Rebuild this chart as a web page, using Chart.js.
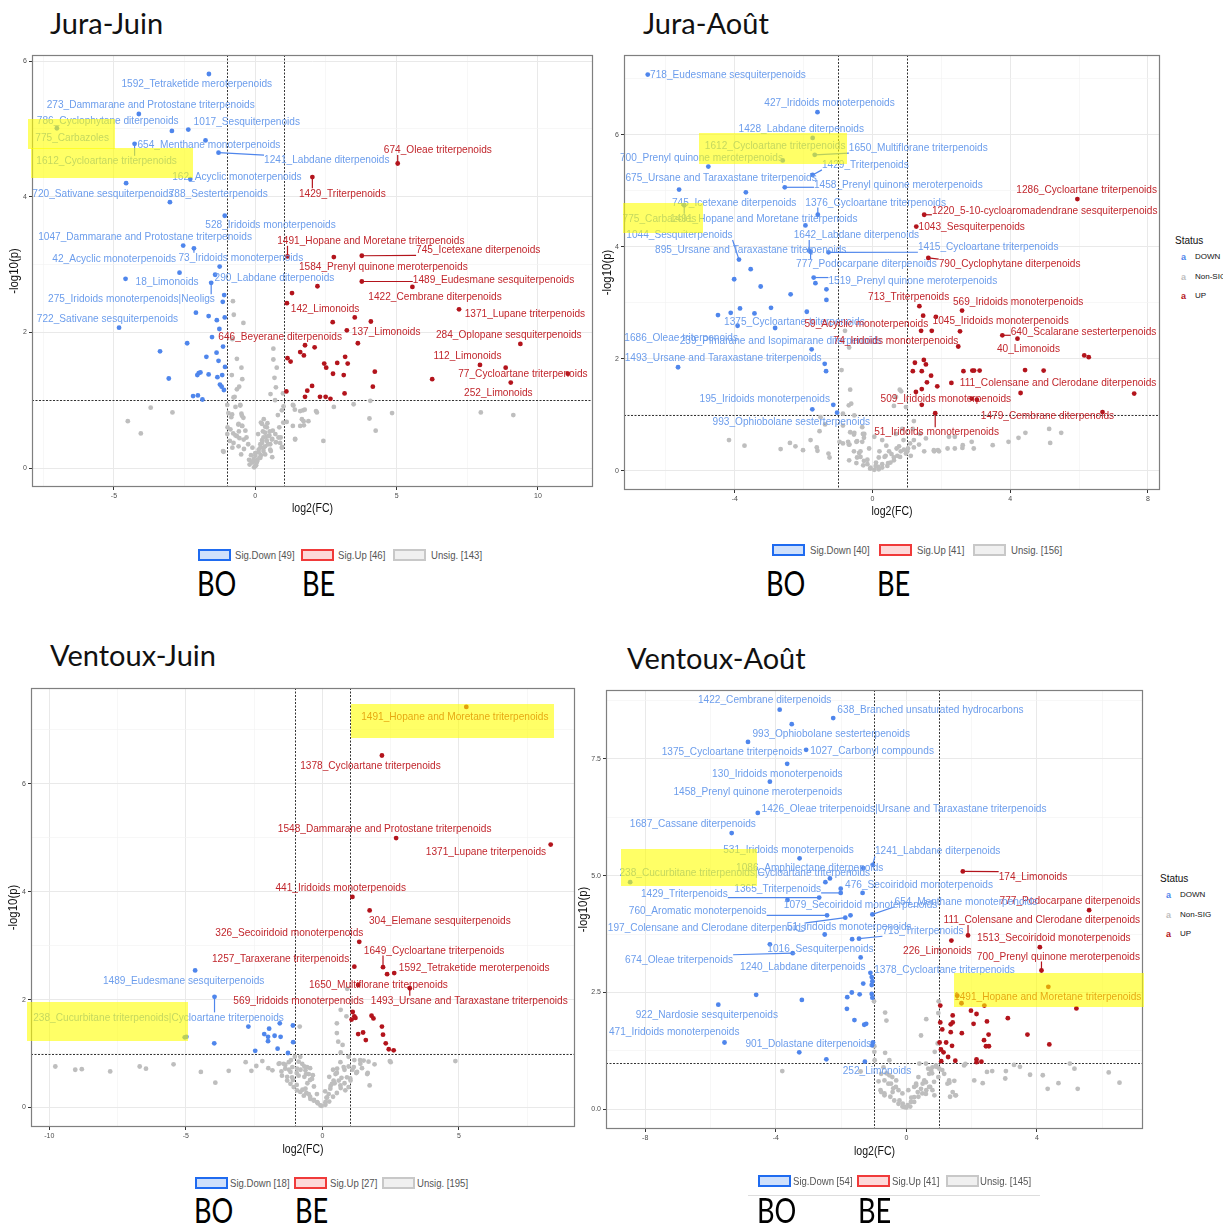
<!DOCTYPE html>
<html>
<head>
<meta charset="utf-8">
<script src="https://cdn.jsdelivr.net/npm/chart.js@4.4.1/dist/chart.umd.min.js"></script>
<style>
  body { margin: 0; width: 1223px; height: 1224px; background: #fff; position: relative; overflow: hidden; font-family: "Liberation Sans", Arial, sans-serif; }
  canvas { position: absolute; }
  .title { position: absolute; font-family: Lato, "Open Sans", sans-serif; font-size: 29px; color: #111; line-height: 1; white-space: nowrap; }
  .hl { position: absolute; background: rgba(255, 255, 0, 0.6); }
  .key { position: absolute; width: 29px; height: 8px; border: 2px solid; }
  .lt { position: absolute; font-size: 11px; color: #555; white-space: nowrap; transform: scaleX(0.87); transform-origin: left center; line-height: 12px; }
  .bb { position: absolute; font-family: Lato, sans-serif; font-size: 34px; color: #000; line-height: 1; transform: scaleX(0.8); transform-origin: left top; }
  .st { position: absolute; font-size: 10px; color: #111; white-space: nowrap; }
  .si { position: absolute; font-size: 8px; color: #111; white-space: nowrap; line-height: 10px; }
  .sm { position: absolute; font-size: 9px; font-weight: bold; line-height: 10px; }
</style>
</head>
<body>
<script>
// ---- Jura-Juin ----
const jjDown = [[-1.64,5.81],[-4.12,5.22],[-2.95,4.97],[-2.37,4.99],[-7.02,5.01],[-1.76,4.83],[-4.27,4.78],[-1.30,4.65],[-2.30,4.26],[-4.57,4.20],[-3.02,3.92],[-1.08,3.72],[-2.55,3.28],[-2.17,3.24],[-2.68,2.88],[-1.26,2.97],[-1.42,2.85],[-4.59,2.79],[-1.56,2.73],[-1.10,2.55],[-1.15,2.45],[-4.82,2.07],[-2.10,2.29],[-1.65,2.24],[-1.36,2.18],[-1.08,2.22],[-1.27,2.05],[-1.53,1.93],[-2.41,1.84],[-1.14,1.79],[-3.37,1.72],[-1.37,1.70],[-1.73,1.64],[-1.30,1.58],[-1.07,1.49],[-3.06,1.32],[-2.00,1.40],[-2.05,1.37],[-1.94,1.41],[-1.65,1.38],[-1.34,1.34],[-1.17,1.37],[-1.25,1.23],[-1.19,1.20],[-1.11,1.15],[-2.20,1.06],[-2.03,1.07],[-1.87,1.01]];
const jjUp = [[5.04,4.49],[2.02,4.29],[1.14,3.12],[2.78,3.11],[3.77,3.13],[1.30,2.58],[2.20,2.68],[3.77,2.75],[5.56,2.67],[1.12,2.43],[2.74,2.15],[3.52,2.22],[4.09,2.16],[3.24,2.03],[3.63,1.84],[7.21,2.34],[9.38,1.83],[1.76,1.81],[2.10,1.78],[1.59,1.71],[1.72,1.66],[1.14,1.62],[1.25,1.57],[2.44,1.54],[2.51,1.48],[2.90,1.55],[3.18,1.64],[3.27,1.54],[2.75,1.39],[3.13,1.37],[4.23,1.42],[4.16,1.20],[2.01,1.21],[1.84,1.14],[1.76,1.05],[2.29,1.05],[2.49,1.05],[2.66,1.02],[3.16,1.10],[1.10,1.13],[6.26,1.31],[7.95,1.52],[8.86,1.48],[9.04,1.26],[11.06,1.39]];
const jjNs = [[-3.70,0.89],[-2.93,0.82],[-4.51,0.69],[-4.05,0.51],[-0.79,2.46],[-0.76,2.26],[-0.42,2.14],[-0.81,1.90],[-0.65,1.61],[-0.49,1.48],[-0.83,1.37],[-0.46,1.31],[-0.57,1.20],[-0.65,1.16],[-0.73,1.05],[0.64,1.76],[0.64,1.60],[0.76,1.48],[0.68,1.33],[0.73,1.19],[0.54,1.09],[0.70,1.00],[0.98,1.10],[1.00,0.91],[0.94,0.85],[-0.99,0.93],[-0.95,0.81],[-0.53,0.93],[-0.49,0.80],[-0.42,0.74],[-0.60,0.64],[-0.46,0.62],[-0.98,0.60],[-0.78,0.51],[-0.58,0.54],[-0.56,0.44],[-0.81,0.30],[-1.14,0.25],[-0.31,0.45],[0.20,0.67],[0.43,0.66],[0.35,0.61],[0.27,0.54],[0.51,0.54],[0.39,0.46],[0.60,0.43],[0.24,0.41],[0.73,0.38],[0.95,0.31],[0.60,0.16],[0.18,0.35],[0.30,0.30],[0.12,0.27],[0.00,0.22],[-0.15,0.19],[-0.22,0.12],[-0.08,0.09],[0.03,0.04],[-0.04,0.01],[0.08,0.12],[0.20,0.19],[1.11,0.68],[1.33,0.62],[1.41,0.43],[1.33,0.93],[1.40,0.86],[1.69,0.85],[1.75,0.86],[1.65,0.72],[1.72,0.63],[2.15,0.84],[2.41,0.40],[2.78,0.90],[3.48,0.94],[4.07,0.99],[4.04,0.73],[4.26,0.55],[4.84,0.81],[7.98,0.82],[9.13,0.78],[-0.70,0.90],[-0.85,0.75],[-0.35,0.55],[-0.25,0.35],[-0.40,0.28],[0.10,0.50],[0.30,0.72],[0.45,0.35],[0.55,0.25],[0.35,0.20],[0.15,0.15],[-0.10,0.30],[0.62,0.55],[0.85,0.60],[0.90,0.45],[0.80,0.78],[-0.90,0.40],[-0.70,0.48],[-0.50,0.20],[0.05,0.08],[-0.20,0.05],[0.25,0.40],[0.50,0.48],
  [-0.77,1.04],[-0.53,0.92],[-0.82,0.79],[-0.47,0.77],[-0.59,0.65],[-0.47,0.62],[-0.88,0.57],[-0.99,0.50],[-0.65,0.47],[-0.41,0.42],[-0.77,0.37],[-0.59,0.32],[-1.12,0.24],[0.24,0.65],[0.41,0.60],[0.35,0.52],[0.47,0.47],[0.29,0.45],[0.41,0.40],[0.24,0.37],[0.35,0.32],[0.18,0.30],[0.29,0.25],[0.12,0.23],[0.00,0.18],[-0.06,0.13],[-0.12,0.08],[0.06,0.10],[0.00,0.03],[0.18,0.15],[0.53,0.35],[0.59,0.42],[0.71,0.50],[0.82,0.45],[0.88,0.37],[0.94,0.30],[0.53,0.27],[1.35,0.92],[1.59,0.84],[1.71,0.69],[1.88,0.69],[1.59,0.62],[1.41,0.42],[0.99,0.67],[2.18,0.82]];
// text, group, point x, point y
const jjLabels = [
  ['1592_Tetraketide meroterpenoids','d',-1.64,5.81],['273_Dammarane and Protostane triterpenoids','d',-4.12,5.22],
  ['786_Cyclophytane diterpenoids','d',-2.95,4.97],['1017_Sesquiterpenoids','d',-2.37,4.99],['775_Carbazoles','d',-7.02,5.01],
  ['654_Menthane monoterpenoids','d',-1.76,4.83],['1612_Cycloartane triterpenoids','d',-4.27,4.78],['1241_Labdane diterpenoids','d',-1.30,4.65],
  ['674_Oleae triterpenoids','u',5.04,4.49],['162_Acyclic monoterpenoids','d',-2.30,4.26],['1429_Triterpenoids','u',2.02,4.29],
  ['720_Sativane sesquiterpenoids','d',-4.57,4.20],['788_Sesterterpenoids','d',-3.02,3.92],['528_Iridoids monoterpenoids','d',-1.08,3.72],
  ['1047_Dammarane and Protostane triterpenoids','d',-2.55,3.28],['1491_Hopane and Moretane triterpenoids','u',1.14,3.12],
  ['745_Icetexane diterpenoids','u',3.77,3.13],['42_Acyclic monoterpenoids','d',-2.68,2.88],['73_Iridoids monoterpenoids','d',-2.17,3.24],
  ['1584_Prenyl quinone meroterpenoids','u',2.20,2.68],['290_Labdane diterpenoids','d',-1.42,2.85],['18_Limonoids','d',-4.59,2.79],
  ['1489_Eudesmane sesquiterpenoids','u',3.77,2.75],['275_Iridoids monoterpenoids|Neoligs','d',-1.56,2.73],['1422_Cembrane diterpenoids','u',5.56,2.67],
  ['142_Limonoids','u',1.12,2.43],['1371_Lupane triterpenoids','u',7.21,2.34],['722_Sativane sesquiterpenoids','d',-4.82,2.07],
  ['137_Limonoids','u',3.24,2.03],['284_Oplopane sesquiterpenoids','u',9.38,1.83],['646_Beyerane diterpenoids','u',1.76,1.81],
  ['112_Limonoids','u',7.95,1.52],['77_Cycloartane triterpenoids','u',11.06,1.39],['252_Limonoids','u',9.04,1.26]
];
// label centre (data units) and whether a leader line is drawn
const jjLabelAt = [[-2.07,5.66,0],[-3.70,5.36,0],[-5.22,5.12,0],[-0.30,5.10,0],[-6.48,4.87,0],[-1.64,4.76,0],[-5.26,4.53,1],[2.53,4.54,1],[6.46,4.69,1],[-0.65,4.29,0],[3.08,4.05,1],[-5.39,4.05,0],[-1.31,4.05,0],[0.54,3.58,0],[-3.90,3.41,0],[4.09,3.35,1],[7.89,3.21,1],[-4.99,3.08,0],[-0.51,3.10,1],[4.53,2.97,0],[0.68,2.81,0],[-3.12,2.74,0],[8.43,2.77,1],[-4.38,2.49,1],[6.36,2.53,0],[2.47,2.35,0],[9.54,2.27,0],[-5.23,2.20,0],[4.63,2.01,0],[8.97,1.96,0],[0.88,1.94,0],[7.51,1.65,0],[9.47,1.39,0],[8.60,1.11,0]];
const jjCounts = [49, 46, 143];

// ---- Jura-Août ----
const jaDown = [[-6.53,7.07],[-1.60,6.40],[-1.74,5.94],[-2.61,5.54],[-1.68,5.64],[-4.77,5.43],[-1.74,5.28],[-5.62,5.02],[-3.68,4.97],[-2.55,5.06],[-1.59,4.57],[-5.47,4.74],[-1.95,4.38],[-3.88,3.77],[-1.84,3.93],[-3.54,3.60],[-1.28,3.90],[-1.80,3.91],[-1.71,3.45],[-1.66,3.35],[-4.02,3.42],[-3.25,3.29],[-1.34,3.24],[-2.38,3.15],[-1.34,3.05],[-4.49,2.78],[-4.12,2.82],[-3.85,2.90],[-3.43,2.81],[-2.95,2.91],[-1.91,2.84],[-3.92,2.59],[-2.83,2.55],[-1.77,2.17],[-5.65,1.85],[-1.39,1.91],[-1.35,1.78],[-1.75,1.10],[-1.14,1.18],[-1.03,1.04]];
const jaUp = [[5.95,4.85],[1.50,4.57],[1.27,4.36],[1.62,3.80],[1.36,2.94],[2.60,2.86],[1.47,2.77],[1.84,2.75],[2.54,2.49],[1.41,2.50],[1.72,2.50],[3.77,2.42],[4.21,2.36],[2.49,2.22],[6.15,2.06],[6.28,2.03],[1.23,1.93],[1.49,1.98],[1.55,1.90],[1.17,1.78],[1.43,1.78],[2.64,1.78],[2.90,1.79],[2.95,1.79],[3.11,1.79],[4.43,1.80],[4.97,1.79],[1.70,1.70],[1.58,1.58],[1.88,1.51],[2.29,1.57],[1.43,1.46],[1.26,1.41],[4.30,1.39],[7.60,1.38],[1.43,1.18],[2.88,1.29],[3.03,1.27],[1.82,1.03],[6.68,1.05]];
const jaNs = [[-0.80,2.50],[-0.68,2.20],[-0.90,1.80],[-0.65,1.45],[-0.69,1.17],[-0.62,1.20],[-0.86,1.02],[-0.53,0.99],[0.79,1.45],[0.83,1.42],[0.68,1.32],[0.62,1.16],[0.97,1.14],[1.20,0.89],[1.17,0.75],[-1.54,0.71],[-1.51,0.96],[-1.38,0.83],[-0.86,0.81],[-0.65,0.69],[-0.53,0.68],[-0.30,0.78],[-0.28,0.66],[-4.17,0.55],[-3.72,0.45],[-2.67,0.39],[-2.40,0.50],[-2.24,0.44],[-2.02,0.37],[-1.80,0.55],[-1.62,0.42],[-1.60,0.36],[-1.28,0.31],[-1.25,0.24],[-0.96,0.52],[-0.86,0.49],[-0.71,0.52],[-0.67,0.47],[-0.47,0.52],[-0.30,0.52],[-0.39,0.32],[-0.68,0.19],[-0.47,0.14],[-0.27,0.10],[-0.07,0.04],[0.05,0.02],[0.16,0.07],[0.28,0.12],[0.45,0.14],[0.62,0.19],[0.80,0.25],[0.97,0.31],[1.03,0.40],[1.09,0.49],[-0.24,0.66],[0.05,0.61],[0.28,0.55],[0.68,0.66],[0.86,0.75],[1.20,0.55],[1.38,0.66],[1.55,0.58],[1.78,0.37],[1.90,0.37],[2.18,0.40],[2.39,0.40],[2.61,0.41],[2.62,0.46],[2.94,0.40],[2.88,0.52],[3.49,0.46],[3.95,0.52],[4.24,0.59],[4.44,0.68],[5.13,0.75],[5.48,0.68],[5.16,0.50],[2.39,0.61],[2.22,0.61],[-0.15,0.20],[0.10,0.15],[0.35,0.25],[0.55,0.30],[0.20,0.35],[-0.35,0.25],[0.40,0.45],[0.70,0.40],[-0.10,0.40],[0.90,0.55],
  [-0.54,0.65],[-0.45,0.53],[-0.25,0.59],[-0.69,0.47],[-0.54,0.35],[-0.35,0.35],[-0.45,0.24],[-0.25,0.18],[-0.15,0.12],[-0.06,0.06],[0.09,0.09],[0.18,0.03],[0.28,0.06],[0.43,0.09],[0.52,0.15],[0.62,0.24],[0.72,0.27],[0.82,0.35],[0.91,0.38],[1.01,0.35],[1.11,0.27],[1.20,0.42],[1.35,0.47],[1.50,0.35],[1.79,0.35],[1.93,0.35],[0.38,0.27],[0.18,0.24],[0.48,0.35],[0.77,0.44]];
const jaLabels = [
  ['718_Eudesmane sesquiterpenoids','d',-6.53,7.07],['427_Iridoids monoterpenoids','d',-1.60,6.40],['1428_Labdane diterpenoids','d',-1.74,5.94],
  ['1612_Cycloartane triterpenoids','d',-2.61,5.54],['1650_Multiflorane triterpenoids','d',-1.68,5.64],['700_Prenyl quinone meroterpenoids','d',-4.77,5.43],
  ['1429_Triterpenoids','d',-1.74,5.28],['675_Ursane and Taraxastane triterpenoids','d',-5.62,5.02],['1458_Prenyl quinone meroterpenoids','d',-2.55,5.06],
  ['1286_Cycloartane triterpenoids','u',5.95,4.85],['745_Icetexane diterpenoids','d',-3.68,4.97],['1376_Cycloartane triterpenoids','d',-1.59,4.57],
  ['1220_5-10-cycloaromadendrane sesquiterpenoids','u',1.50,4.57],['775_Carbazoles','d',-5.47,4.74],['1491_Hopane and Moretane triterpenoids','d',-1.95,4.38],
  ['1043_Sesquiterpenoids','u',1.27,4.36],['1044_Sesquiterpenoids','d',-3.88,3.77],['1642_Labdane diterpenoids','d',-1.84,3.93],
  ['895_Ursane and Taraxastane triterpenoids','d',-3.54,3.60],['1415_Cycloartane triterpenoids','d',-1.28,3.90],['777_Podocarpane diterpenoids','d',-1.80,3.91],
  ['790_Cyclophytane diterpenoids','u',1.62,3.80],['1519_Prenyl quinone meroterpenoids','d',-1.71,3.45],['713_Triterpenoids','u',1.36,2.94],
  ['569_Iridoids monoterpenoids','u',2.60,2.86],['1375_Cycloartane triterpenoids','d',-3.92,2.59],['59_Acyclic monoterpenoids','u',1.47,2.77],
  ['1045_Iridoids monoterpenoids','u',2.54,2.49],['640_Scalarane sesterterpenoids','u',3.77,2.42],['1686_Oleae triterpenoids','d',-4.49,2.78],
  ['239_Pimarane and Isopimarane diterpenoids','d',-2.83,2.55],['74_Iridoids monoterpenoids','u',2.49,2.22],['40_Limonoids','u',4.21,2.36],
  ['1493_Ursane and Taraxastane triterpenoids','d',-5.65,1.85],['111_Colensane and Clerodane diterpenoids','u',4.97,1.79],
  ['509_Iridoids monoterpenoids','u',1.43,1.18],['195_Iridoids monoterpenoids','d',-1.75,1.10],['993_Ophiobolane sesterterpenoids','d',-1.03,1.04],
  ['51_Iridoids monoterpenoids','u',1.82,1.03],['1479_Cembrane diterpenoids','u',6.68,1.05]
];
const jaLabelAt = [[-4.20,7.07,0],[-1.25,6.57,0],[-2.07,6.10,0],[-2.83,5.80,0],[1.33,5.76,1],[-4.97,5.58,0],[-0.21,5.46,1],[-4.40,5.23,0],[0.75,5.10,1],[6.22,5.01,0],[-4.02,4.79,0],[0.09,4.79,1],[5.00,4.64,1],[-6.19,4.50,1],[-3.16,4.49,0],[2.88,4.35,0],[-5.61,4.21,1],[-0.47,4.21,1],[-3.54,3.94,0],[3.36,3.99,1],[-0.18,3.69,1],[3.98,3.69,1],[1.17,3.39,1],[1.05,3.10,0],[4.23,3.01,0],[-2.27,2.66,1],[-0.18,2.62,0],[3.72,2.68,0],[6.13,2.49,1],[-5.56,2.37,0],[-2.67,2.33,0],[0.68,2.33,0],[4.53,2.18,0],[-4.34,2.02,0],[5.39,1.58,0],[2.13,1.29,0],[-3.13,1.29,0],[-2.36,0.87,0],[1.86,0.69,1],[5.08,0.99,0]];
const jaCounts = [40, 41, 156];

// ---- Ventoux-Juin ----
const vjDown = [[-4.66,2.54],[-3.95,2.05],[-5.04,1.30],[-4.98,1.31],[-2.71,1.50],[-1.95,1.46],[-1.56,1.56],[-1.08,1.52],[-2.13,1.36],[-1.99,1.31],[-1.75,1.33],[-1.53,1.31],[-1.99,1.23],[-1.07,1.21],[-3.96,1.19],[-1.64,1.09],[-1.26,1.01],[-2.46,1.05]];
const vjUp = [[5.27,7.42],[2.18,6.52],[2.70,4.99],[8.36,4.87],[1.10,3.90],[1.73,3.65],[1.35,3.07],[2.22,2.60],[1.17,2.61],[2.63,2.49],[2.37,2.47],[1.31,2.27],[3.20,2.21],[1.11,1.77],[1.17,1.69],[1.07,1.63],[1.21,1.66],[1.80,1.70],[1.87,1.65],[2.18,1.50],[2.22,1.35],[2.32,1.19],[2.43,1.08],[2.61,1.06],[1.31,1.36],[1.49,1.39],[1.59,1.25]];
const vjNs = [[-9.78,0.76],[-9.05,0.70],[-8.81,0.71],[-7.77,0.67],[-6.69,0.76],[-6.46,0.72],[-5.45,0.80],[-4.45,0.66],[-3.92,0.46],[-3.43,0.68],[-2.81,0.84],[-2.60,0.68],[-2.42,0.77],[-2.20,0.86],[-1.98,0.73],[-1.83,0.69],[-0.83,1.50],[0.53,1.56],[0.88,1.69],[0.91,2.20],[0.67,1.81],[0.53,1.38],[0.58,1.22],[0.67,1.02],[0.74,1.16],[0.96,0.94],[1.17,0.88],[1.38,0.88],[1.69,0.85],[1.91,0.80],[2.47,0.86],[2.50,0.84],[4.87,0.86],[-1.57,0.82],[-1.36,0.79],[-1.15,0.88],[-1.01,0.94],[-0.87,0.85],[-0.66,0.76],[-0.45,0.73],[-1.50,0.67],[-1.29,0.57],[-1.08,0.51],[-0.94,0.42],[-0.73,0.33],[-0.59,0.27],[-0.45,0.20],[-0.31,0.14],[-0.17,0.08],[-0.03,0.03],[0.11,0.05],[0.25,0.11],[0.39,0.20],[0.53,0.27],[0.67,0.36],[0.81,0.45],[1.02,0.54],[1.24,0.64],[1.45,0.73],[1.66,0.64],[1.73,0.41],[0.96,0.76],[0.53,0.64],[0.39,0.70],[0.25,0.57],[0.81,0.70],[-0.31,0.39],[-0.45,0.51],[-0.66,0.57],[-0.94,0.64],[-1.22,0.70],[-0.80,0.70],[-0.55,0.45],[-0.20,0.25],[0.15,0.18],[0.45,0.45],[0.70,0.55],[-1.10,0.75],[-0.60,0.62],[0.10,0.30],[-0.35,0.60],[0.30,0.40],[1.10,0.70],
  [-1.60,0.81],[-1.42,0.81],[-1.23,0.84],[-1.36,0.72],[-1.17,0.66],[-1.48,0.59],[-1.29,0.50],[-1.11,0.56],[-1.17,0.44],[-1.05,0.38],[-0.93,0.32],[-0.81,0.29],[-0.68,0.22],[-0.62,0.35],[-0.50,0.25],[-0.44,0.16],[-0.32,0.13],[-0.19,0.10],[-0.07,0.04],[0.11,0.10],[0.17,0.19],[0.23,0.25],[0.29,0.35],[0.35,0.44],[0.41,0.50],[0.48,0.62],[0.54,0.72],[0.66,0.84],[0.78,0.75],[0.90,0.56],[1.03,0.50],[1.15,0.75],[1.27,0.66],[1.39,0.81],[1.51,0.87],[1.64,0.62],[0.96,0.38],[0.84,0.32],[0.66,0.41],[0.60,0.50],[-0.81,0.94],[-0.74,0.81],[-0.62,0.69],[-0.56,0.75],[-0.93,0.72],[-0.87,0.59],[-0.50,0.62],[-0.38,0.53]];
const vjLabels = [
  ['1491_Hopane and Moretane triterpenoids','u',5.27,7.42],['1378_Cycloartane triterpenoids','u',2.18,6.52],
  ['1548_Dammarane and Protostane triterpenoids','u',2.70,4.99],['1371_Lupane triterpenoids','u',8.36,4.87],
  ['441_Iridoids monoterpenoids','u',1.10,3.90],['304_Elemane sesquiterpenoids','u',1.73,3.65],['326_Secoiridoid monoterpenoids','u',1.35,3.07],
  ['1649_Cycloartane triterpenoids','u',2.22,2.60],['1257_Taraxerane triterpenoids','u',1.17,2.61],['1592_Tetraketide meroterpenoids','u',2.63,2.49],
  ['1489_Eudesmane sesquiterpenoids','d',-4.66,2.54],['238_Cucurbitane triterpenoids|Cycloartane triterpenoids','d',-3.95,2.05],
  ['1650_Multiflorane triterpenoids','u',1.31,2.27],['1493_Ursane and Taraxastane triterpenoids','u',3.20,2.21],['569_Iridoids monoterpenoids','u',1.11,1.77]
];
const vjLabelAt = [[4.85,7.23,0],[1.76,6.33,0],[2.28,5.16,0],[5.99,4.73,0],[0.67,4.07,0],[4.30,3.46,0],[-1.21,3.24,0],[4.09,2.91,1],[-1.53,2.75,0],[5.56,2.59,0],[-5.08,2.35,0],[-6.00,1.67,1],[2.05,2.28,0],[5.38,1.98,1],[-0.87,1.98,0]];
const vjCounts = [18, 27, 195];

// ---- Ventoux-Août ----
const vaDown = [[-3.88,8.55],[-2.24,8.37],[-3.51,8.24],[-4.85,7.86],[-3.07,7.69],[-3.65,7.39],[-4.18,7.01],[-4.55,6.34],[-5.35,5.91],[-3.27,5.37],[-1.03,5.23],[-1.32,5.16],[-8.46,4.86],[-2.48,4.86],[-2.34,4.94],[-1.34,4.63],[-2.01,4.63],[-2.01,4.72],[-2.67,4.53],[-3.64,4.48],[-1.04,4.17],[-1.71,4.15],[-2.43,4.15],[-1.87,4.10],[-2.50,3.74],[-1.45,3.65],[-1.66,3.64],[-4.18,3.53],[-3.48,3.34],[-1.40,3.25],[-1.10,2.92],[-1.06,2.83],[-1.04,2.74],[-1.06,2.66],[-1.32,2.69],[-4.60,2.45],[-3.20,2.34],[-5.76,2.24],[-1.67,2.50],[-1.81,2.40],[-1.43,2.46],[-1.06,2.47],[-1.04,2.39],[-1.82,2.15],[-1.59,1.91],[-1.29,1.81],[-1.23,1.83],[-5.57,1.43],[-1.02,1.43],[-1.05,1.37],[-3.28,1.22],[-2.45,1.07],[-1.27,1.02]];
const vaUp = [[1.73,5.09],[5.60,4.26],[1.89,3.72],[4.09,3.47],[1.38,3.61],[4.14,2.97],[4.35,2.62],[1.56,2.43],[1.69,2.27],[2.39,2.22],[5.21,2.16],[1.98,2.11],[2.15,2.04],[1.42,2.01],[1.42,1.86],[1.36,1.82],[1.04,1.86],[1.04,2.22],[2.06,1.83],[2.47,1.88],[3.11,1.95],[3.71,1.60],[4.38,1.39],[1.10,1.71],[1.36,1.65],[1.70,1.63],[2.52,1.60],[2.38,1.48],[2.44,1.35],[2.53,1.35],[1.02,1.43],[1.22,1.43],[1.40,1.36],[1.06,1.28],[1.14,1.22],[1.28,1.12],[1.50,1.04],[2.15,1.07],[2.15,1.01],[2.30,1.02],[1.07,1.03]];
const vaNs = [[-0.99,2.31],[-0.65,2.07],[-0.61,1.90],[0.45,1.58],[0.61,1.93],[0.99,2.31],[0.98,2.06],[0.87,1.23],[-0.65,1.21],[-0.98,1.35],[-0.98,1.23],[-0.97,1.05],[-3.80,0.82],[1.81,0.97],[2.08,0.62],[2.34,0.56],[2.47,0.80],[2.63,0.82],[3.05,0.82],[3.03,0.66],[3.30,0.95],[3.48,0.91],[3.79,0.74],[4.18,0.73],[4.33,0.44],[4.66,0.56],[5.01,0.98],[5.15,0.87],[5.25,0.44],[6.20,0.79],[6.53,0.57],[1.32,0.57],[1.47,0.61],[1.34,0.27],[1.50,0.30],[-0.61,0.77],[-0.43,0.69],[-0.31,0.62],[-0.79,0.41],[-0.67,0.34],[-0.49,0.27],[-0.37,0.19],[-0.24,0.12],[-0.12,0.06],[0.00,0.04],[0.12,0.06],[0.24,0.16],[0.37,0.27],[0.49,0.34],[0.61,0.41],[0.73,0.48],[0.85,0.59],[0.98,0.69],[1.10,0.84],[0.92,0.91],[0.67,0.87],[0.37,0.69],[0.24,0.48],[-0.12,0.34],[0.06,0.41],[0.55,0.62],[0.79,0.77],[-0.24,0.41],[-0.55,0.55],[-1.40,0.81],[-0.85,0.60],[-0.70,0.90],[0.30,0.55],[0.15,0.25],[-0.40,0.45],
  [-0.52,1.05],[-0.77,0.76],[-0.67,0.62],[-0.52,0.73],[-0.47,0.55],[-0.32,0.48],[-0.42,0.37],[-0.77,0.37],[-0.67,0.30],[-0.21,0.19],[-0.11,0.12],[-0.06,0.05],[0.04,0.09],[0.14,0.16],[0.24,0.26],[0.35,0.37],[0.45,0.44],[0.30,0.51],[0.50,0.55],[0.60,0.58],[0.70,0.76],[0.76,0.83],[0.80,0.90],[0.91,0.94],[1.01,0.87],[0.70,0.48],[0.80,0.41],[0.60,0.33],[0.86,0.30],[1.16,0.76],[1.26,0.55],[1.31,0.62],[1.42,0.37],[1.52,0.30],[1.77,0.94],[0.96,1.41],[0.40,0.98],[0.60,0.98]];
const vaLabels = [
  ['1422_Cembrane diterpenoids','d',-3.88,8.55],['638_Branched unsaturated hydrocarbons','d',-2.24,8.37],['993_Ophiobolane sesterterpenoids','d',-3.51,8.24],
  ['1375_Cycloartane triterpenoids','d',-4.85,7.86],['1027_Carbonyl compounds','d',-3.07,7.69],['130_Iridoids monoterpenoids','d',-3.65,7.39],
  ['1458_Prenyl quinone meroterpenoids','d',-4.18,7.01],['1426_Oleae triterpenoids|Ursane and Taraxastane triterpenoids','d',-4.55,6.34],
  ['1687_Cassane diterpenoids','d',-5.35,5.91],['531_Iridoids monoterpenoids','d',-3.27,5.37],['1241_Labdane diterpenoids','d',-1.03,5.23],
  ['1086_Amphilectane diterpenoids','d',-1.32,5.16],['238_Cucurbitane triterpenoids|Cycloartane triterpenoids','d',-8.46,4.86],
  ['174_Limonoids','u',1.73,5.09],['476_Secoiridoid monoterpenoids','d',-1.34,4.63],['1365_Triterpenoids','d',-2.01,4.63],
  ['1429_Triterpenoids','d',-2.67,4.53],['777_Podocarpane diterpenoids','u',5.60,4.26],['654_Menthane monoterpenoids','d',-1.04,4.17],
  ['1079_Secoiridoid monoterpenoids','d',-1.71,4.15],['760_Aromatic monoterpenoids','d',-2.43,4.15],['111_Colensane and Clerodane diterpenoids','u',1.89,3.72],
  ['197_Colensane and Clerodane diterpenoids','d',-1.87,4.10],['51_Iridoids monoterpenoids','d',-2.50,3.74],['713_Triterpenoids','d',-1.45,3.65],
  ['1513_Secoiridoid monoterpenoids','u',4.09,3.47],['1016_Sesquiterpenoids','d',-4.18,3.53],['226_Limonoids','u',1.38,3.61],
  ['674_Oleae triterpenoids','d',-3.48,3.34],['700_Prenyl quinone meroterpenoids','u',4.14,2.97],['1240_Labdane diterpenoids','d',-1.40,3.25],
  ['1378_Cycloartane triterpenoids','d',-1.10,2.92],['1491_Hopane and Moretane triterpenoids','u',4.35,2.62],['922_Nardosie sesquiterpenoids','d',-5.76,2.24],
  ['471_Iridoids monoterpenoids','d',-5.57,1.43],['901_Dolastane diterpenoids','d',-1.02,1.43],['252_Limonoids','d',-1.05,1.37]
];
const vaLabelAt = [[-4.34,8.75,0],[0.74,8.54,0],[-2.30,8.04,0],[-5.34,7.64,0],[-1.05,7.67,0],[-3.95,7.18,0],[-4.55,6.79,0],[-0.07,6.43,0],[-6.54,6.10,0],[-3.61,5.56,0],[0.96,5.52,1],[-2.96,5.16,0],[-4.95,5.07,0],[3.88,4.98,1],[0.39,4.81,0],[-3.94,4.72,1],[-6.80,4.60,1],[5.01,4.46,0],[1.83,4.44,1],[-1.40,4.37,0],[-6.39,4.24,1],[4.15,4.05,1],[-6.11,3.88,1],[-1.75,3.90,0],[0.51,3.81,1],[4.52,3.67,0],[-2.63,3.44,0],[0.95,3.39,0],[-6.96,3.20,1],[4.66,3.27,1],[-3.17,3.04,0],[1.17,2.99,0],[4.33,2.40,0],[-6.11,2.03,0],[-7.11,1.66,0],[-3.00,1.41,0],[-0.90,0.82,0]];
const vaCounts = [54, 41, 145];

const cutX = [-1, 1];
const cutY = 1;

const BLUE_PT = '#4F86EC', RED_PT = '#B3141C', GREY_PT = '#BEBEBE';
const BLUE_TX = '#6C9DEC', RED_TX = '#C1262C';
const SX = 0.88; // narrow text

function narrow(ctx, s, x, y, sx) {
  ctx.save();
  ctx.translate(x, y);
  ctx.scale(sx, 1);
  ctx.fillText(s, 0, 0);
  ctx.restore();
}

function volcanoPlugin(p) {
  return {
    id: 'volcano',
    beforeDatasetsDraw(chart) {
      const { ctx, chartArea: a, scales: { x, y } } = chart;
      ctx.save();
      ctx.strokeStyle = '#333';
      ctx.lineWidth = 1;
      ctx.setLineDash([2, 1.5]);
      cutX.forEach(v => {
        const px = Math.round(x.getPixelForValue(v)) + 0.5;
        ctx.beginPath(); ctx.moveTo(px, a.top); ctx.lineTo(px, a.bottom); ctx.stroke();
      });
      const py = Math.round(y.getPixelForValue(cutY)) + 0.5;
      ctx.beginPath(); ctx.moveTo(a.left, py); ctx.lineTo(a.right, py); ctx.stroke();
      ctx.restore();
    },
    afterDatasetsDraw(chart) {
      const { ctx, scales: { x, y } } = chart;
      ctx.save();
      ctx.font = '11.5px "Liberation Sans", Arial, sans-serif';
      ctx.textAlign = 'center';
      ctx.textBaseline = 'middle';
      p.labels.forEach((l, i) => {
        const at = p.at[i];
        const cx = x.getPixelForValue(at[0]), cy = y.getPixelForValue(at[1]);
        const w = ctx.measureText(l[0]).width * SX, h = 10;
        if (at[2]) {
          const px = x.getPixelForValue(l[2]), py = y.getPixelForValue(l[3]);
          const tx = Math.min(Math.max(px, cx - w / 2), cx + w / 2);
          const ty = Math.min(Math.max(py, cy - h / 2), cy + h / 2);
          ctx.strokeStyle = l[1] === 'u' ? RED_PT : BLUE_PT;
          ctx.lineWidth = 1.2;
          ctx.beginPath(); ctx.moveTo(px, py); ctx.lineTo(tx, ty); ctx.stroke();
        }
        ctx.fillStyle = l[1] === 'u' ? RED_TX : BLUE_TX;
        narrow(ctx, l[0], cx, cy, SX);
      });
      ctx.restore();
    },
    afterDraw(chart) {
      const { ctx, chartArea: a } = chart;
      ctx.save();
      ctx.strokeStyle = '#7F7F7F';
      ctx.lineWidth = 1.2;
      ctx.strokeRect(a.left + 0.5, a.top + 0.5, a.right - a.left - 1, a.bottom - a.top - 1);
      ctx.fillStyle = '#111';
      ctx.font = '12px "Liberation Sans", Arial, sans-serif';
      ctx.textAlign = 'center';
      ctx.textBaseline = 'middle';
      narrow(ctx, 'log2(FC)', (a.left + a.right) / 2, a.bottom + p.xTitleOff, 0.88);
      ctx.translate(a.left - p.yTitleOff, (a.top + a.bottom) / 2);
      ctx.rotate(-Math.PI / 2);
      narrow(ctx, '-log10(p)', 0, 0, 0.95);
      ctx.restore();
    }
  };
}

function axis(range, major, minor, fmt, horiz, size) {
  const all = major.concat(minor).sort((a, b) => a - b);
  const isMajor = v => major.includes(v);
  return {
    type: 'linear',
    min: range[0], max: range[1],
    afterBuildTicks: s => { s.ticks = all.map(v => ({ value: v })); },
    afterFit: s => { if (horiz) s.height = size; else s.width = size; },
    ticks: {
      autoSkip: false, maxRotation: 0, padding: 2,
      color: '#4D4D4D',
      font: { family: 'Liberation Sans', size: 7 },
      callback: v => isMajor(v) ? fmt(v) : ''
    },
    grid: {
      color: c => isMajor(c.tick.value) ? '#E9E9E9' : '#F3F3F3',
      lineWidth: c => isMajor(c.tick.value) ? 1 : 0.7,
      drawTicks: true, tickLength: 3,
      tickColor: c => isMajor(c.tick.value) ? '#333' : 'rgba(0,0,0,0)'
    },
    border: { display: false }
  };
}

function volcano(p) {
  const [l, t, r, b] = p.box;
  const W = r - l + p.yw + 6, H = b - t + 10 + 40;
  const cv = document.createElement('canvas');
  cv.width = W; cv.height = H;
  cv.style.left = (l - p.yw) + 'px'; cv.style.top = (t - 10) + 'px';
  cv.style.width = W + 'px'; cv.style.height = H + 'px';
  document.body.appendChild(cv);
  const pt = (data, col, order) => ({ data, backgroundColor: col, borderWidth: 0, pointRadius: 2.4, pointHoverRadius: 2.4, order });
  new Chart(cv, {
    type: 'scatter',
    data: { datasets: [pt(p.ns, GREY_PT, 3), pt(p.down, BLUE_PT, 2), pt(p.up, RED_PT, 1)] },
    options: {
      responsive: false, animation: false, events: [],
      layout: { padding: { left: 0, right: 6, top: 10, bottom: 0 } },
      plugins: { legend: { display: false }, tooltip: { enabled: false } },
      scales: {
        x: axis(p.xr, p.xMajor, p.xMinor, v => String(v), true, 40),
        y: axis(p.yr, p.yMajor, p.yMinor, p.yFmt, false, p.yw)
      }
    },
    plugins: [volcanoPlugin(p)]
  });
}

volcano({ box: [32, 55, 593, 487], yw: 30, xr: [-7.9, 11.95], yr: [-0.28, 6.09],
  xMajor: [-5, 0, 5, 10], xMinor: [-7.5, -2.5, 2.5, 7.5], yMajor: [0, 2, 4, 6], yMinor: [1, 3, 5], yFmt: v => String(v),
  down: jjDown, up: jjUp, ns: jjNs, labels: jjLabels, at: jjLabelAt, xTitleOff: 22, yTitleOff: 17 });
volcano({ box: [624, 55, 1160, 490], yw: 30, xr: [-7.22, 8.35], yr: [-0.34, 7.42],
  xMajor: [-4, 0, 4, 8], xMinor: [-6, -2, 2, 6], yMajor: [0, 2, 4, 6], yMinor: [1, 3, 5, 7], yFmt: v => String(v),
  down: jaDown, up: jaUp, ns: jaNs, labels: jaLabels, at: jaLabelAt, xTitleOff: 22, yTitleOff: 16 });
volcano({ box: [31, 688, 575, 1127], yw: 30, xr: [-10.67, 9.25], yr: [-0.36, 7.77],
  xMajor: [-10, -5, 0, 5], xMinor: [-7.5, -2.5, 2.5, 7.5], yMajor: [0, 2, 4, 6], yMinor: [1, 3, 5, 7], yFmt: v => String(v),
  down: vjDown, up: vjUp, ns: vjNs, labels: vjLabels, at: vjLabelAt, xTitleOff: 23, yTitleOff: 17 });
volcano({ box: [606, 690, 1143, 1129], yw: 34, xr: [-9.2, 7.25], yr: [-0.42, 8.97],
  xMajor: [-8, -4, 0, 4], xMinor: [-6, -2, 2, 6], yMajor: [0, 2.5, 5, 7.5], yMinor: [1.25, 3.75, 6.25, 8.75], yFmt: v => v.toFixed(1),
  down: vaDown, up: vaUp, ns: vaNs, labels: vaLabels, at: vaLabelAt, xTitleOff: 23, yTitleOff: 22 });

// ---- page furniture ----
function el(cls, x, y, html, extra) {
  const d = document.createElement('div');
  d.className = cls;
  d.style.left = x + 'px'; d.style.top = y + 'px';
  if (html !== undefined) d.innerHTML = html;
  if (extra) Object.assign(d.style, extra);
  document.body.appendChild(d);
  return d;
}

el('title', 50, 8, 'Jura-Juin');
el('title', 643, 8, 'Jura-Août');
el('title', 50, 640, 'Ventoux-Juin');
el('title', 627, 643, 'Ventoux-Août');

const legendNames = ['Sig.Down', 'Sig.Up', 'Unsig.'];
const keyStyles = [['#1F6BF0', '#CFE0FB'], ['#F03A3A', '#FDD9D9'], ['#C8C8C8', '#F0F0F0']];
function bottomLegend(counts, keysX, textX, yc) {
  counts.forEach((n, i) => {
    el('key', keysX[i], yc - 6, undefined, { borderColor: keyStyles[i][0], background: keyStyles[i][1] });
    el('lt', textX[i], yc - 6, legendNames[i] + ' [' + n + ']');
  });
}
bottomLegend(jjCounts, [198, 301, 393], [235, 338, 431], 555);
bottomLegend(jaCounts, [772, 879, 973], [810, 917, 1011], 550);
bottomLegend(vjCounts, [195, 294, 382], [230, 330, 417], 1183);
bottomLegend(vaCounts, [758, 857, 946], [793, 892, 980], 1181);
el('hl', 748, 1195, undefined, { width: '292px', height: '1px', background: '#ddd' });

el('bb', 197, 566, 'BO'); el('bb', 302, 566, 'BE');
el('bb', 766, 566, 'BO'); el('bb', 877, 566, 'BE');
el('bb', 194, 1193, 'BO'); el('bb', 295, 1193, 'BE');
el('bb', 757, 1193, 'BO'); el('bb', 858, 1193, 'BE');

function statusLegend(x, y) {
  el('st', x, y - 6, 'Status');
  [['DOWN', BLUE_PT], ['Non-SIG', GREY_PT], ['UP', RED_PT]].forEach((s, i) => {
    const yy = y + 16 + i * 19.5;
    el('sm', x + 6, yy - 5, 'a', { color: s[1] });
    el('si', x + 20, yy - 5, s[0]);
  });
}
statusLegend(1175, 241);
statusLegend(1160, 879);

// yellow highlighter marks
[[28, 119, 87, 30], [31, 148, 162, 30], [699, 133, 148, 31], [623, 203, 80, 30],
 [351, 704, 203, 34], [27, 1002, 161, 39], [621, 849, 136, 37], [954, 973, 190, 34]]
  .forEach(h => el('hl', h[0], h[1], undefined, { width: h[2] + 'px', height: h[3] + 'px' }));
</script>
</body>
</html>
